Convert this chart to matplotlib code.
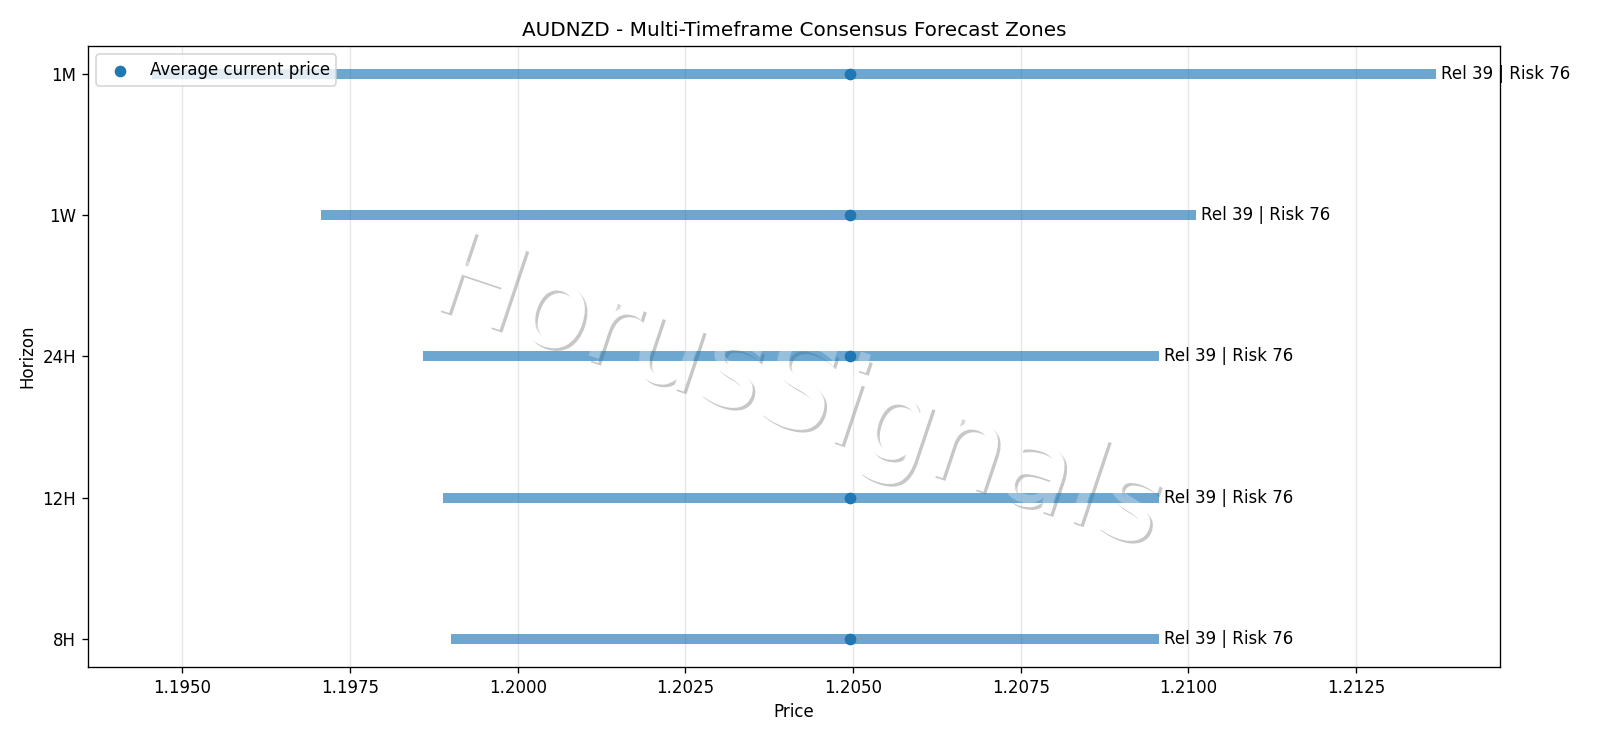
import matplotlib
matplotlib.use("Agg")
import matplotlib.pyplot as plt
import matplotlib.patheffects as pe

plt.rcParams["font.family"] = ["DejaVu Sans"]

pair = "AUDNZD"
horizons = ["8H", "12H", "24H", "1W", "1M"]
zone_low = [1.19900, 1.19888, 1.19859, 1.19707, 1.19455]
zone_high = [1.20956, 1.20956, 1.20956, 1.21012, 1.21369]
current_price = [1.20495, 1.20495, 1.20495, 1.20495, 1.20495]
reliability = [39, 39, 39, 39, 39]
risk = [76, 76, 76, 76, 76]

fig = plt.figure(figsize=(13.3333, 6.15), dpi=120)
ax = fig.add_axes([0.055, 0.0962, 0.8825, 0.8415])

ypos = list(range(len(horizons)))
ax.hlines(ypos, zone_low, zone_high, colors="tab:blue", linewidth=6, alpha=0.65, zorder=2)
ax.scatter(current_price, ypos, color="tab:blue", zorder=3, label="Average current price")
for y, hi, r, k in zip(ypos, zone_high, reliability, risk):
    ax.annotate(f"Rel {r} | Risk {k}", xy=(hi, y), xytext=(3, 0), textcoords="offset points",
                va="center", ha="left", fontsize=10, annotation_clip=False)

ax.set_yticks(ypos)
ax.set_yticklabels(horizons)
ax.set_xlabel("Price")
ax.set_ylabel("Horizon")
ax.set_title(f"{pair} - Multi-Timeframe Consensus Forecast Zones")
ax.grid(True, axis="x", alpha=0.3)
ax.legend(loc="upper left")

wm_kw = dict(ha="center", va="center", rotation=-18.5, fontsize=70, transform=ax.transAxes)
# base watermark: white letters with soft shadow, beneath the bars
ax.text(0.503, 0.437, "HorusSignals", color="white", zorder=1.2,
        path_effects=[pe.SimplePatchShadow(offset=(1.6, -1.6), shadow_rgbFace="black", alpha=0.22),
                      pe.Normal()], **wm_kw)
# translucent overlay lightening the bars
ax.text(0.503, 0.437, "HorusSignals", color="white", alpha=0.3, zorder=4, **wm_kw)

fig.savefig("out.png", dpi=120)
